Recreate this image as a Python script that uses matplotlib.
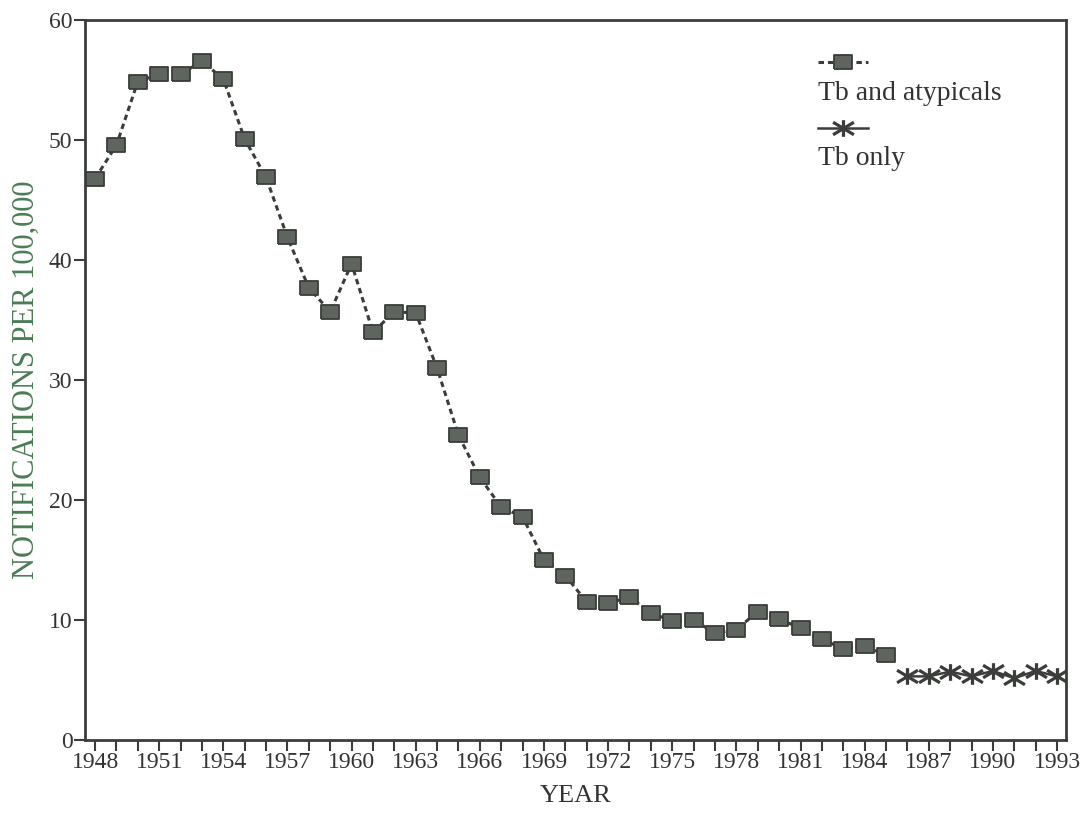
import numpy as np
import matplotlib
matplotlib.use("Agg")
import matplotlib.pyplot as plt
from matplotlib.lines import Line2D
from matplotlib.path import Path

plt.rcParams['font.family'] = ['Liberation Serif', 'DejaVu Serif']

# Tb and atypicals, notifications per 100,000
years_all = [1948, 1949, 1950, 1951, 1952, 1953, 1954, 1955, 1956, 1957,
             1958, 1959, 1960, 1961, 1962, 1963, 1964, 1965, 1966, 1967,
             1968, 1969, 1970, 1971, 1972, 1973, 1974, 1975, 1976, 1977,
             1978, 1979, 1980, 1981, 1982, 1983, 1984, 1985]
rate_all = [46.8, 49.6, 54.9, 55.5, 55.5, 56.6, 55.1, 50.1, 46.9, 41.9,
            37.7, 35.7, 39.7, 34.0, 35.7, 35.6, 31.0, 25.4, 21.9, 19.4,
            18.6, 15.0, 13.7, 11.5, 11.4, 11.9, 10.6, 9.9, 10.0, 8.9,
            9.2, 10.7, 10.1, 9.3, 8.4, 7.6, 7.8, 7.1]

# Tb only
years_tb = [1986, 1987, 1988, 1989, 1990, 1991, 1992, 1993]
rate_tb = [5.3, 5.3, 5.7, 5.3, 5.75, 5.15, 5.75, 5.3]

xtick_labels = list(range(1948, 1994, 3))

dark = '#3a3d3a'
txt = '#333333'
box = [(-1.3, -1), (1.3, -1), (1.3, 1), (-1.3, 1), (-1.3, -1)]
# wide asterisk: vertical spoke plus two diagonals
star = Path([(0, -1), (0, 1), (-1.25, -0.75), (1.25, 0.75), (-1.25, 0.75), (1.25, -0.75)],
            [Path.MOVETO, Path.LINETO, Path.MOVETO, Path.LINETO, Path.MOVETO, Path.LINETO])

sq_kw = dict(marker=box, ms=12.5, mfc='#5e645e', mec=dark, mew=1.3)
st_kw = dict(marker=star, ms=15, mec=dark, mew=2.3)

fig = plt.figure(figsize=(10.9, 8.14), dpi=100)
ax = fig.add_axes([0.078, 0.091, 0.9, 0.884])

ax.plot(years_all, rate_all, color=dark, lw=2.2, ls=(0, (1.8, 1.3)), **sq_kw)
ax.plot(years_tb, rate_tb, color=dark, lw=1.8, ls='-', **st_kw)

ax.set_xlim(1947.53, 1993.42)
ax.set_ylim(0, 60)
ax.set_xticks(range(1948, 1994))
ax.set_xticklabels([str(y) if y in xtick_labels else '' for y in range(1948, 1994)])
ax.set_yticks(range(0, 61, 10))

ax.tick_params(axis='both', direction='out', length=8, width=1.5,
               color=dark, labelcolor=txt, labelsize=17, pad=1)
for s in ax.spines.values():
    s.set_linewidth(2)
    s.set_color(dark)

ax.set_xlabel('YEAR', fontsize=19, color=txt, labelpad=8)
ax.set_ylabel('NOTIFICATIONS PER 100,000', fontsize=22, color='#4a7d55', labelpad=6)

# legend: handle above each label
tr = ax.transAxes
ax.add_line(Line2D([0.747, 0.798], [0.942, 0.942], transform=tr, color=dark,
                   lw=2.2, ls=(0, (1.8, 1.3))))
ax.add_line(Line2D([0.7725], [0.942], transform=tr, color=dark, ls='none', **sq_kw))
ax.text(0.747, 0.899, 'Tb and atypicals', transform=tr, fontsize=20,
        color=txt, va='center', ha='left')
ax.add_line(Line2D([0.747, 0.798], [0.85, 0.85], transform=tr, color=dark, lw=1.8))
ax.add_line(Line2D([0.7725], [0.85], transform=tr, color=dark, ls='none', **st_kw))
ax.text(0.747, 0.808, 'Tb only', transform=tr, fontsize=20,
        color=txt, va='center', ha='left')

fig.savefig('out.png', dpi=100)
